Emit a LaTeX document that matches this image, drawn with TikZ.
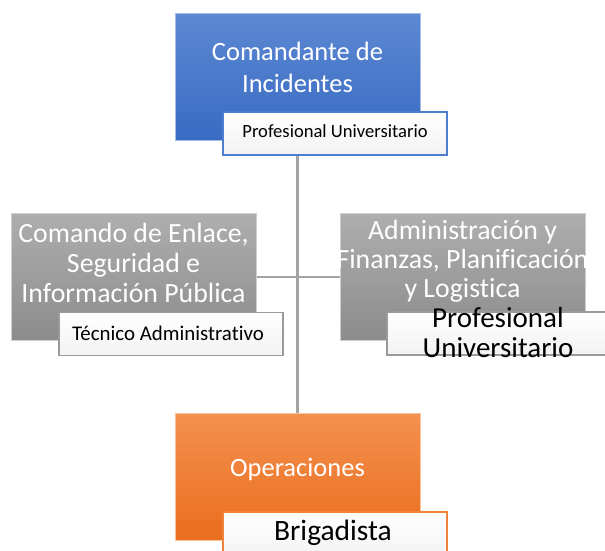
\documentclass[tikz,border=0pt]{standalone}
\usepackage{fontspec}
\setmainfont{Carlito}[Ligatures=NoCommon]
\pgfdeclarelayer{bg}
\pgfsetlayers{bg,main}
\definecolor{blueT}{HTML}{5C89D3}
\definecolor{blueB}{HTML}{3A6BC3}
\definecolor{blueEdge}{HTML}{4E7ECF}
\definecolor{grayT}{HTML}{AEAEAE}
\definecolor{grayB}{HTML}{8C8C8C}
\definecolor{grayEdge}{HTML}{9A9A9A}
\definecolor{orT}{HTML}{F4914F}
\definecolor{orB}{HTML}{EA6D1D}
\definecolor{orEdge}{HTML}{F0823A}
\definecolor{lineC}{HTML}{A3A3A3}
\tikzset{
  unitbox/.style={rectangle, inner sep=0pt, minimum width=245pt, minimum height=127pt, line width=1pt},
  bluebox/.style={unitbox, top color=blueT, bottom color=blueB, draw=blueT!55!white},
  graybox/.style={unitbox, top color=grayT, bottom color=grayB, draw=grayT!60!white},
  orbox/.style={unitbox, top color=orT, bottom color=orB, draw=orT!55!white},
  tag/.style={rectangle, inner sep=0pt, minimum width=224pt, minimum height=43pt,
    top color=white, bottom color=black!5, draw=#1, line width=1.5pt},
  maintxt/.style={text=white, align=center, inner sep=0pt, font=\fontsize{26.5}{32}\selectfont},
  tagtxt/.style={text=black, align=center, inner sep=0pt, font=\fontsize{#1}{30}\selectfont},
  conn/.style={draw=lineC},
}
\begin{document}
\begin{tikzpicture}[x=1pt,y=-1pt]
\useasboundingbox (0,0) rectangle (605,550);
\clip (0,0) rectangle (605,550);
% main boxes
\node[bluebox] (cmd) at (297.5,76.5) {};
\node[graybox] (enl) at (133.5,276.5) {};
\node[graybox] (adm) at (462.5,276.5) {};
\node[orbox]   (ops) at (297.5,476.5) {};
% connectors
\begin{pgfonlayer}{bg}
\fill[white] (0,0) rectangle (605,550);
\draw[conn, line width=3pt] (cmd.south) -- (ops.north);
\draw[conn, line width=2pt] (enl.east) -- (adm.west);
\end{pgfonlayer}
% box texts
\node[maintxt] (cmdtxt) at (297.5,67) {Comandante de\\Incidentes};
\node[maintxt, font=\fontsize{27.8}{30}\selectfont] (enltxt) at (133.5,262.5) {Comando de Enlace,\\Seguridad e\\Información Pública};
\node[maintxt, font=\fontsize{27.8}{29}\selectfont] (admtxt) at (462.5,261) {Administración y\\Finanzas, Planificación\\y Logistica};
\node[maintxt, anchor=base] (opstxt) at (297.5,476) {Operaciones};
% tags
\node[tag=blueEdge] (cmdtag) at (335,133.5) {};
\node[tag=grayEdge] (enltag) at (171,334) {};
\node[tag=grayEdge] (admtag) at (499,333.5) {};
\node[tag=orEdge, minimum height=48pt] (opstag) at (335,536) {};
\node[tagtxt=18.6, anchor=base] (cmdtagtxt) at (335,137) {Profesional Universitario};
\node[tagtxt=20.9, anchor=base] (enltagtxt) at (168,340) {Técnico Administrativo};
\node[tagtxt=29, anchor=base] (admtagtxt1) at (498,327) {Profesional};
\node[tagtxt=29, anchor=base] (admtagtxt2) at (498,357) {Universitario};
\node[tagtxt=29.5, anchor=base] (opstagtxt) at (333,540) {Brigadista};
\end{tikzpicture}
\end{document}
